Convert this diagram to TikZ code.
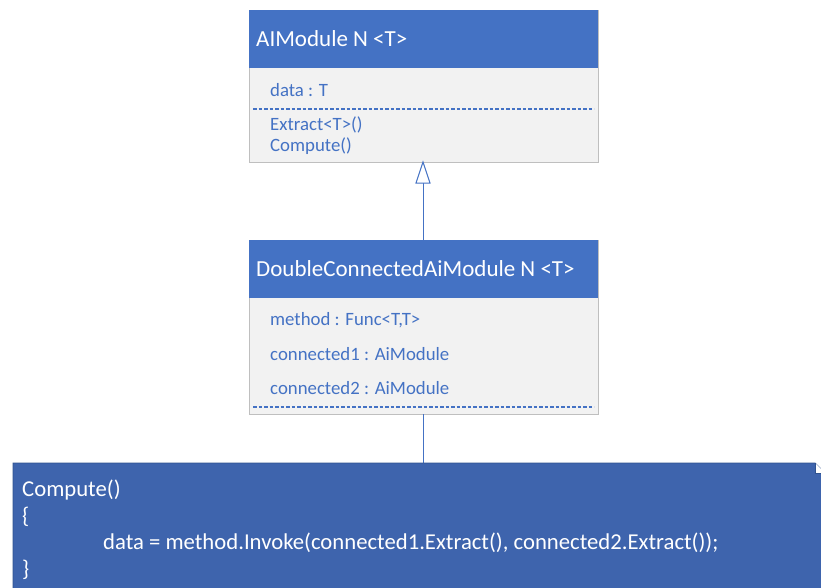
\documentclass[tikz,border=0pt]{standalone}
\usepackage{fontspec}
\setmainfont{Carlito}
\definecolor{hdr}{HTML}{4472C4}
\definecolor{bodyg}{HTML}{F2F2F2}
\definecolor{brd}{HTML}{BFBFBF}
\definecolor{note}{HTML}{3E64AD}
\definecolor{noteb}{HTML}{2F528F}
\begin{document}
\begin{tikzpicture}[x=1pt,y=-1pt,
  classbody/.style={draw=brd,fill=bodyg,line width=0.8pt},
  classhead/.style={fill=hdr},
  title/.style={anchor=west,text=white,font=\fontsize{23}{27}\selectfont,inner sep=0pt},
  member/.style={anchor=west,text=hdr,font=\fontsize{18.8}{22}\selectfont,inner sep=0pt},
  sep/.style={draw=hdr,dash pattern=on 3.5pt off 2pt,line width=1.2pt},
  link/.style={draw=hdr,line width=1pt},
  code/.style={anchor=west,text=white,inner sep=0pt,font=\fontsize{22.7}{27}\selectfont}]
\useasboundingbox (0,0) rectangle (821,587);
% class 1
\draw[classbody] (249,10) rectangle (598,162);
\fill[classhead] (249.4,10.4) rectangle (597.6,68);
\node[title] (t1) at (256,39) {AIModule N <T>};
\node[member] (m1) at (270,90) {data : T};
\draw[sep] (253,109) -- (594,109);
\node[member] (m2) at (270,125) {Extract<T>()};
\node[member] (m3) at (270,146) {Compute()};
\coordinate (c1b) at (423,162);
% class 2
\draw[classbody] (249,240) rectangle (598,414);
\fill[classhead] (249.4,240.4) rectangle (597.6,298);
\node[title] (t2) at (256,269) {DoubleConnectedAiModule N <T>};
\node[member] (n1) at (270,320) {method : Func<T,T>};
\node[member] (n2) at (270,354) {connected1 : AiModule};
\node[member] (n3) at (270,388) {connected2 : AiModule};
\draw[sep] (253,407) -- (594,407);
\coordinate (c2t) at (423,240);
\coordinate (c2b) at (423,414);
% inheritance arrow
\coordinate (tipB) at (423,183);
\draw[link] (c2t) -- (tipB);
\draw[link,fill=white,line join=miter] (tipB) -- (416,183) -- (c1b) -- (430,183) -- cycle;
% note
\coordinate (nt) at (423,463);
\draw[link] (c2b) -- (nt);
\draw[fill=note,draw=noteb,line width=0.8pt] (13,463) -- (815,463) -- (825,473) -- (825,600) -- (13,600) -- cycle;
\draw[draw=noteb,line width=0.8pt,fill=white] (815,463) -- (815,473) -- (825,473);
\node[code] (l1) at (22,490) {Compute()};
\node[code] (l2) at (22,517) {\{};
\node[code] (l3) at (103,543) {data = method.Invoke(connected1.Extract(), connected2.Extract());};
\node[code] (l4) at (22,570) {\}};
\end{tikzpicture}
\end{document}
